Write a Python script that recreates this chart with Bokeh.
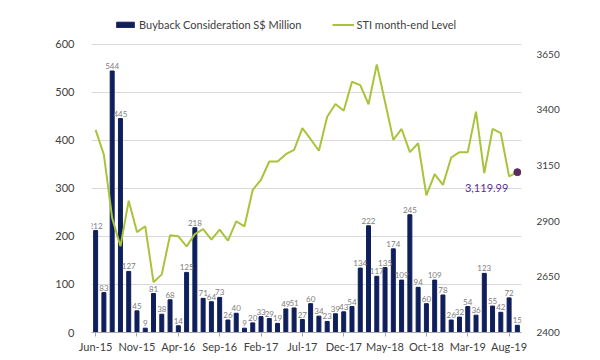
from bokeh.plotting import figure
from bokeh.models import (ColumnDataSource, Range1d, LinearAxis, FixedTicker,
                          Legend, LegendItem, Label)
from bokeh.core.properties import value
from bokeh.embed import file_html
from bokeh.resources import INLINE

months = ["Jun-15", "Jul-15", "Aug-15", "Sep-15", "Oct-15", "Nov-15", "Dec-15",
          "Jan-16", "Feb-16", "Mar-16", "Apr-16", "May-16", "Jun-16", "Jul-16",
          "Aug-16", "Sep-16", "Oct-16", "Nov-16", "Dec-16", "Jan-17", "Feb-17",
          "Mar-17", "Apr-17", "May-17", "Jun-17", "Jul-17", "Aug-17", "Sep-17",
          "Oct-17", "Nov-17", "Dec-17", "Jan-18", "Feb-18", "Mar-18", "Apr-18",
          "May-18", "Jun-18", "Jul-18", "Aug-18", "Sep-18", "Oct-18", "Nov-18",
          "Dec-18", "Jan-19", "Feb-19", "Mar-19", "Apr-19", "May-19", "Jun-19",
          "Jul-19", "Aug-19", "Sep-19"]

buyback = [212, 83, 544, 445, 127, 45, 9, 81, 38, 68, 14, 125, 218, 71, 64, 73,
           26, 40, 9, 20, 33, 29, 19, 49, 51, 27, 60, 34, 23, 39, 43, 54, 134,
           222, 117, 135, 174, 109, 245, 94, 60, 109, 78, 26, 32, 54, 36, 123,
           55, 42, 72, 15]

sti = [3310, 3198, 2914, 2787, 2992, 2851, 2877, 2626, 2661, 2837, 2832, 2787,
       2842, 2864, 2817, 2862, 2813, 2899, 2877, 3041, 3086, 3168, 3168, 3201,
       3220, 3318, 3268, 3216, 3369, 3426, 3396, 3526, 3511, 3425, 3604, 3435,
       3265, 3314, 3210, 3250, 3016, 3111, 3063, 3186, 3210, 3210, 3392, 3116,
       3314, 3295, 3101, 3119.99]

tick_every = 5
left_ticks = [0, 100, 200, 300, 400, 500, 600]
right_ticks = [2400, 2650, 2900, 3150, 3400, 3650]

FONT = "Lato"
idx = list(range(len(months)))
src = ColumnDataSource(dict(x=idx, b=buyback, s=sti,
                            lab=[str(v) for v in buyback]))

# frame extends above the 600 gridline to leave room for the legend
p = figure(width=600, height=360, output_backend="svg",
           toolbar_location=None, min_border_left=91, min_border_right=79,
           min_border_top=8, min_border_bottom=28,
           x_range=Range1d(-0.5, len(months) - 0.5), y_range=Range1d(0, 674))
p.outline_line_color = None
p.background_fill_color = "white"
p.extra_y_ranges = {"sti": Range1d(2400, 3855)}

bars = p.vbar(x="x", top="b", width=0.48, source=src, color="#0f1f5c")
p.text(x="x", y="b", text="lab", source=src, text_align="center",
       text_baseline="bottom", y_offset=-2, text_font=value(FONT),
       text_font_size="8px", text_color="#808080")

line = p.line(x="x", y="s", source=src, y_range_name="sti",
              line_color="#a8c43a", line_width=2)
last = len(sti) - 1
p.scatter(x=[idx[last]], y=[sti[last]], y_range_name="sti", size=7,
          color="#5a2d5c")
p.add_layout(Label(x=idx[last], y=sti[last], y_range_name="sti",
                   text=f"{sti[last]:,.2f}", text_align="right",
                   text_baseline="middle", x_offset=-9, y_offset=-16,
                   text_font=FONT, text_font_size="11px",
                   text_color="#5b2e91"))

# axes
p.xaxis.ticker = FixedTicker(ticks=idx[::tick_every])
p.xaxis.major_label_overrides = {i: months[i] for i in idx[::tick_every]}
p.xaxis.axis_line_color = "#a6a6a6"
p.xaxis.major_tick_line_color = "#a6a6a6"
p.xaxis.major_tick_out = 4
p.xaxis.major_tick_in = 0
p.xaxis.minor_tick_line_color = None
p.xaxis.major_label_standoff = 3
p.xaxis.major_label_text_font = FONT
p.xaxis.major_label_text_font_size = "11px"
p.xaxis.major_label_text_color = "#404040"

p.yaxis.ticker = FixedTicker(ticks=left_ticks)
p.yaxis.axis_line_color = None
p.yaxis.major_tick_line_color = None
p.yaxis.minor_tick_line_color = None
p.yaxis.major_label_standoff = 11
p.yaxis.major_label_text_font = FONT
p.yaxis.major_label_text_font_size = "11px"
p.yaxis.major_label_text_color = "#404040"

ra = LinearAxis(y_range_name="sti", ticker=FixedTicker(ticks=right_ticks))
ra.axis_line_color = None
ra.major_tick_line_color = None
ra.minor_tick_line_color = None
ra.major_label_standoff = 9
ra.major_label_text_font = FONT
ra.major_label_text_font_size = "10px"
ra.major_label_text_color = "#404040"
p.add_layout(ra, "right")

p.xgrid.grid_line_color = None
p.ygrid.grid_line_color = "#d9d9d9"
p.ygrid.grid_line_width = 1

legend = Legend(items=[LegendItem(label="Buyback Consideration S$ Million", renderers=[bars]),
                       LegendItem(label="STI month-end Level", renderers=[line])],
                orientation="horizontal", location=(23, 301), border_line_color=None,
                background_fill_alpha=0, padding=4, margin=0, spacing=30,
                glyph_width=22, glyph_height=7, label_standoff=3,
                label_height=14, label_text_baseline="middle",
                label_text_font=FONT, label_text_font_size="11px",
                label_text_color="#404040")
p.add_layout(legend)

open("out.html", "w").write(file_html(p, INLINE))
